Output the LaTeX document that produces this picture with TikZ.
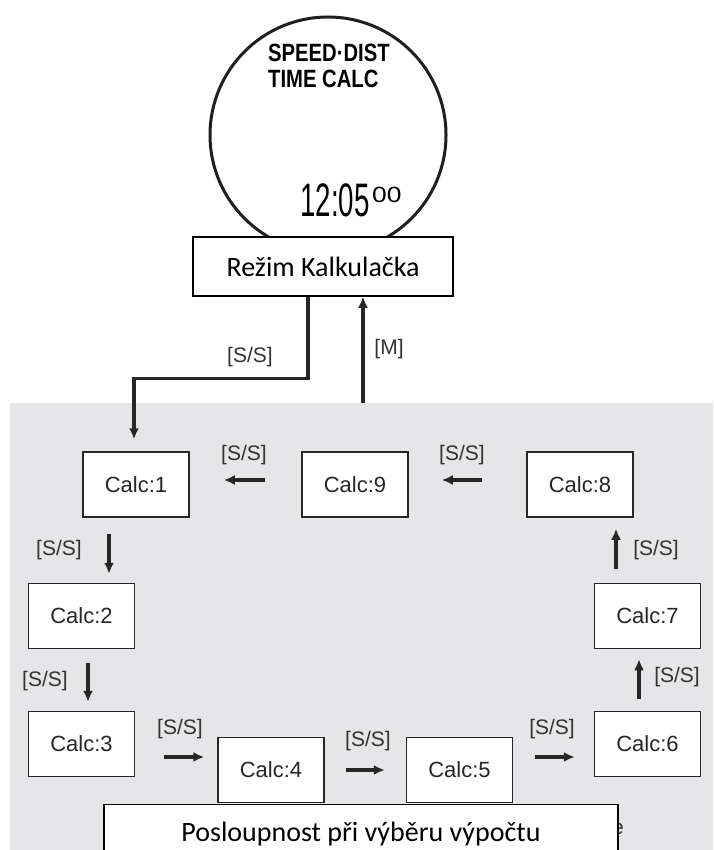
\documentclass[tikz,border=0pt]{standalone}
\usepackage{fontspec}
\usepackage{graphicx}
\setmainfont{Liberation Sans}
\newfontfamily\captionfont{Carlito}
\usetikzlibrary{arrows.meta,calc}
\definecolor{panelgray}{RGB}{230,230,232}
\definecolor{inkgray}{RGB}{38,38,38}

\begin{document}
\begin{tikzpicture}[x=1pt,y=-1pt,
  calcbox/.style={draw=inkgray,line width=1.5pt,fill=white,minimum width=106pt,minimum height=65pt,
    font=\fontsize{22}{26}\selectfont,text=black!85},
  lbl/.style={font=\fontsize{21}{25}\selectfont,text=black!80,inner sep=0pt},
  sarrow/.style={-{Latex[length=11pt,width=10pt]},line width=3.5pt,inkgray},
  conn/.style={-{Latex[length=11pt,width=10pt]},line width=3.2pt,inkgray},
  titlebox/.style={draw=black,line width=1.5pt,fill=white,font=\captionfont\fontsize{28}{32}\selectfont},
  lcd/.style={anchor=west,inner sep=0pt}]
\clip (0,0) rectangle (713,850);
\fill[white] (0,0) rectangle (713,850);
\fill[panelgray] (10,403) rectangle (720,860);

% watch face
\draw[line width=3pt,black!88] (328,135) circle (118pt);
\node[lcd] (lcdtop) at (268,52.5) {\scalebox{0.81}[1]{\fontsize{25}{25}\selectfont\bfseries SPEED·DIST}};
\node[lcd] (lcdmid) at (268,78.5) {\scalebox{0.81}[1]{\fontsize{25}{25}\selectfont\bfseries TIME CALC}};
\node[lcd] (clock) at (300,200) {\scalebox{0.59}[1]{\fontsize{47}{47}\selectfont 12:05}};
\node[lcd] (secs) at (372,195) {\scalebox{1.2}[1]{\fontsize{22}{22}\selectfont 00}};

\node[titlebox,minimum width=260pt,minimum height=59pt] (mode) at (323,266.5) {Režim Kalkulačka};

% calc screens
\foreach \i/\x/\y in {1/136/484.5, 9/355/484.5, 8/580/484.5, 2/81.5/616, 7/647.5/616,
                      3/81.5/744, 6/647.5/744, 4/271/770, 5/459.5/770}
    \node[calcbox] (c\i) at (\x,\y) {Calc:\i};

% into and out of the mode
\draw[conn] ([xshift=-15pt]mode.south) -- ++(0,82) -| ([xshift=-2pt,yshift=12pt]c1.north);
\coordinate (mfoot) at (363,403);
\draw[conn] (mfoot) -- (mfoot |- mode.south);
\node[lbl] (lss) at (250,357) {[S/S]};
\node[lbl] (lm) at (389,349) {[M]};

% steps
\draw[sarrow,shorten <=36pt,shorten >=34pt] ([yshift=4.5pt]c9.west) -- ([yshift=4.5pt]c1.east);
\draw[sarrow,shorten <=44pt,shorten >=33pt] ([yshift=4.5pt]c8.west) -- ([yshift=4.5pt]c9.east);
\draw[sarrow,shorten <=16pt,shorten >=9pt] ([xshift=-27pt]c1.south) -- ([xshift=27.5pt]c2.north);
\draw[sarrow,shorten <=14pt,shorten >=9pt] ([xshift=6.5pt]c2.south) -- ([xshift=6.5pt]c3.north);
\draw[sarrow,shorten <=29pt,shorten >=13pt] ([yshift=-13pt]c3.east) -- ([yshift=13pt]c4.west);
\draw[sarrow,shorten <=21pt,shorten >=21pt] (c4.east) -- (c5.west);
\draw[sarrow,shorten <=22pt,shorten >=19pt] ([yshift=13pt]c5.east) -- ([yshift=-13pt]c6.west);
\draw[sarrow,shorten <=12pt,shorten >=10pt] ([xshift=-8.5pt]c6.north) -- ([xshift=-8.5pt]c7.south);
\draw[sarrow,shorten <=14pt,shorten >=11pt] ([xshift=-31.5pt]c7.north) -- ([xshift=36pt]c8.south);
\foreach \nm/\x/\y in {91/244/455, 89/462/455, 12/59/550, 23/45/681, 34/180/729,
                       45/368/741, 56/552/729, 67/677/677, 78/656/550}
    \node[lbl] (l\nm) at (\x,\y) {[S/S]};

\node[lbl,anchor=west] (tail) at (612,829) {e};
\node[titlebox,minimum width=514pt,minimum height=60pt,anchor=north] (seq) at (361,803.5) {Posloupnost při výběru výpočtu};
\end{tikzpicture}
\end{document}
